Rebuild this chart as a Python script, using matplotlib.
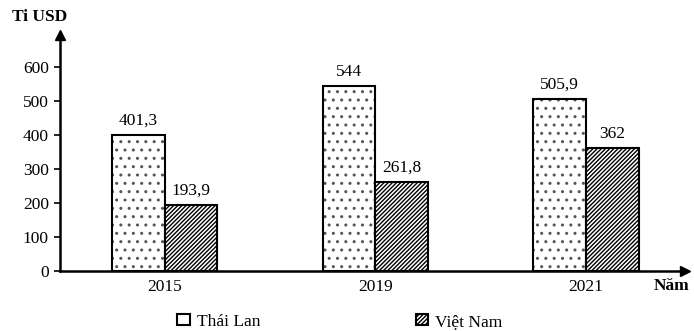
import matplotlib.pyplot as plt
from matplotlib.patches import Patch
import numpy as np

years = ['2015', '2019', '2021']
thai_lan = [401.3, 544, 505.9]
viet_nam = [193.9, 261.8, 362]
thai_labels = ['401,3', '544', '505,9']
viet_labels = ['193,9', '261,8', '362']

plt.rcParams['font.family'] = ['Liberation Serif', 'DejaVu Serif']
plt.rcParams['hatch.linewidth'] = 1.0

fig = plt.figure(figsize=(6.94, 3.31), dpi=100)
ax = fig.add_axes([0.0865, 0.181, 0.9005, 0.713])

fs = 12.5
x = np.arange(len(years))
w = 0.25
# dotted fill in grey, then a black outline on top
ax.bar(x - w / 2, thai_lan, w, color='white', edgecolor='#555555', linewidth=0, hatch='..')
ax.bar(x - w / 2, thai_lan, w, fill=False, edgecolor='black', linewidth=1.5)
ax.bar(x + w / 2, viet_nam, w, color='white', edgecolor='black', linewidth=1.5, hatch='////////')

for i in range(len(years)):
    ax.text(x[i] - w / 2, thai_lan[i] + 18, thai_labels[i], ha='center', va='bottom', fontsize=fs)
    ax.text(x[i] + w / 2, viet_nam[i] + 18, viet_labels[i], ha='center', va='bottom', fontsize=fs)

ax.set_xlim(-0.496, 2.47)
ax.set_ylim(0, 694)
ax.set_yticks([0, 100, 200, 300, 400, 500, 600])
ax.set_xticks(x)
ax.set_xticklabels(years)
ax.tick_params(axis='y', length=4, width=1.2, labelsize=fs, pad=4)
ax.tick_params(axis='x', length=0, labelsize=fs, pad=6)
for s in ['top', 'right']:
    ax.spines[s].set_visible(False)
ax.spines['left'].set_linewidth(1.8)
ax.spines['bottom'].set_linewidth(1.8)

# axis arrows
ax.plot(1, 0, '>k', transform=ax.get_yaxis_transform(), clip_on=False, markersize=7)
ax.plot(-0.496, 1, '^k', transform=ax.get_xaxis_transform(), clip_on=False, markersize=7)

fig.text(12 / 694, 1 - 17 / 331, 'Ti USD', fontsize=fs, fontweight='bold', va='center', ha='left')
fig.text(654 / 694, 1 - 286 / 331, 'Năm', fontsize=fs, fontweight='bold', va='center', ha='left')

handles = [Patch(facecolor='white', edgecolor='black', linewidth=1.5),
           Patch(facecolor='white', edgecolor='black', linewidth=1.5, hatch='////////')]
fig.legend(handles, ['Thái Lan', 'Việt Nam'], loc='center', bbox_to_anchor=(0.49, 1 - 322 / 331),
           ncol=2, frameon=False, fontsize=fs, columnspacing=9, handlelength=0.7, handleheight=0.6,
           handletextpad=0.4)

fig.savefig('out.png', dpi=100)
